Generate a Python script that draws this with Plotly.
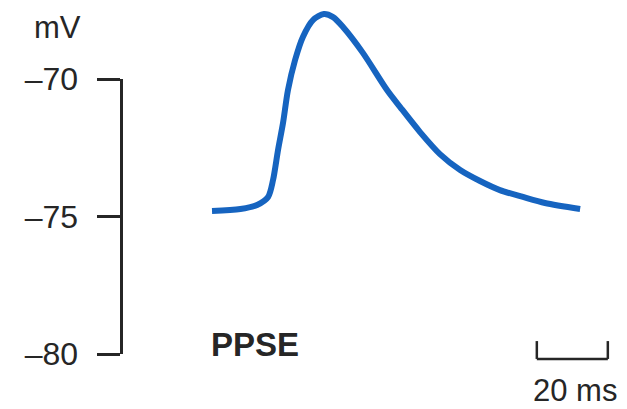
import plotly.graph_objects as go

# Data (time in ms, membrane potential in mV)
time_ms = [0, 8, 12.7, 15.8, 17.2, 18.6, 20, 21.4, 23.4, 25.6, 28.5, 31.5, 34.1,
           36.9, 42.5, 49.3, 53.0, 58.6, 64.2, 69.9, 75.5, 81.1, 87.6, 93.8, 103.7]
voltage_mv = [-74.80, -74.73, -74.58, -74.29, -73.67, -72.58, -71.60, -70.40,
              -69.31, -68.47, -67.85, -67.64, -67.75, -68.11, -69.05, -70.40,
              -71.02, -71.93, -72.73, -73.31, -73.71, -74.04, -74.29, -74.51, -74.73]

tick_vals = [-70, -75, -80]
tick_text = ["\u201370", "\u201375", "\u201380"]
y_unit = "mV"
trace_label = "PPSE"
scale_bar_ms = 20
scale_bar_start_ms = 91.5
scale_label = "20 ms"

W, H = 627, 409
BLUE = "#1664c0"
INK = "#262626"
FONT = "Liberation Sans, Arial, sans-serif"

fig = go.Figure()
fig.add_trace(go.Scatter(
    x=time_ms, y=voltage_mv, mode="lines",
    line=dict(color=BLUE, width=6, shape="spline", smoothing=0.8),
    hoverinfo="skip", showlegend=False,
))
# invisible trace to host the scale axis
fig.add_trace(go.Scatter(x=[0], y=[-75], xaxis="x2", yaxis="y2", mode="markers",
                         marker=dict(opacity=0), showlegend=False, hoverinfo="skip"))

fig.update_layout(
    template="none",
    width=W, height=H,
    autosize=False,
    margin=dict(l=0, r=0, t=0, b=0, pad=0, autoexpand=False),
    paper_bgcolor="white", plot_bgcolor="rgba(0,0,0,0)",
    font=dict(family=FONT, color=INK),
    xaxis=dict(range=[-59.72, 116.9], visible=False, domain=[0, 1], automargin=False),
    yaxis=dict(range=[-82.0, -67.127], visible=False, domain=[0, 1], automargin=False),
    xaxis2=dict(domain=[122.5 / W, 0.3], anchor="y2", visible=False, range=[0, 1],
                automargin=False),
    yaxis2=dict(
        domain=[1 - 354 / H, 1 - 79 / H], anchor="x2", range=[-80, -70],
        automargin=False,
        showline=True, linecolor=INK, linewidth=3,
        ticks="outside", ticklen=23, tickwidth=3, tickcolor=INK,
        tickvals=tick_vals, ticktext=tick_text,
        tickfont=dict(size=32, color=INK, family=FONT),
        ticklabelstandoff=12,
        showgrid=False, zeroline=False,
    ),
    showlegend=False,
)

# Scale bar (bracket)
y_bar = -80.18
y_top = -79.53
x0 = scale_bar_start_ms
x1 = scale_bar_start_ms + scale_bar_ms
bar_line = dict(color=INK, width=2.5)
fig.add_shape(type="line", x0=x0, x1=x1, y0=y_bar, y1=y_bar, xref="x", yref="y", line=bar_line)
fig.add_shape(type="line", x0=x0, x1=x0, y0=y_bar, y1=y_top, xref="x", yref="y", line=bar_line)
fig.add_shape(type="line", x0=x1, x1=x1, y0=y_bar, y1=y_top, xref="x", yref="y", line=bar_line)

fig.add_annotation(text=scale_label, x=575 / W, y=1 - 390 / H, xref="paper", yref="paper",
                   xanchor="center", yanchor="middle", showarrow=False,
                   font=dict(size=31, color=INK, family=FONT))
fig.add_annotation(text=y_unit, x=83 / W, y=1 - 27 / H, xref="paper", yref="paper",
                   xanchor="right", yanchor="middle", showarrow=False,
                   font=dict(size=31, color=INK, family=FONT))
fig.add_annotation(text="<b>" + trace_label + "</b>", x=209 / W, y=1 - 344 / H,
                   xref="paper", yref="paper", xanchor="left", yanchor="middle",
                   showarrow=False, font=dict(size=33, color=INK, family=FONT))

fig.write_html("out.html",
               config={"displayModeBar": False, "staticPlot": True},
               post_script="document.body.style.margin='0px';document.body.style.overflow='hidden';")
